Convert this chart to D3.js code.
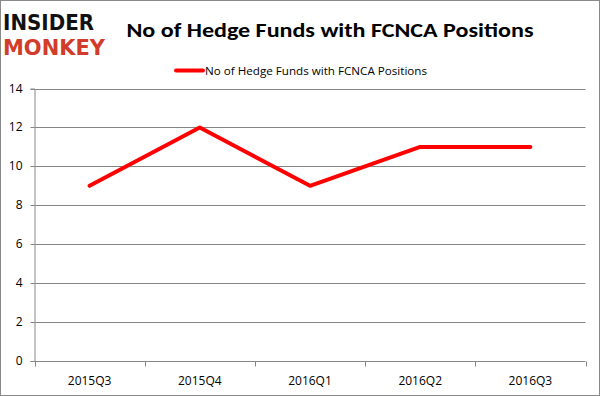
<!DOCTYPE html>
<html>
<head>
<meta charset="utf-8">
<script src="https://cdn.jsdelivr.net/npm/d3@7/dist/d3.min.js"></script>
<style>
  body { margin: 0; background: #fff; }
  svg { display: block; }
</style>
</head>
<body>
<svg id="chart" width="600" height="396"></svg>
<script>
const quarters = ["2015Q3", "2015Q4", "2016Q1", "2016Q2", "2016Q3"];
const hedgeFunds = [9, 12, 9, 11, 11];
const yTicks = [0, 2, 4, 6, 8, 10, 12, 14];
const seriesName = "No of Hedge Funds with FCNCA Positions";

const width = 600;
const height = 396;
const margin = { top: 88.5, right: 14.5, bottom: 35, left: 34.5 };
const FONT = "'Open Sans', 'Liberation Sans', Arial, sans-serif";

const svg = d3.select("#chart");

// outer frame
svg.append("rect")
  .attr("x", 0.5).attr("y", 0.5)
  .attr("width", width - 1).attr("height", height - 1)
  .attr("fill", "#fff")
  .attr("stroke", "#898989");

// logo
svg.append("text")
  .attr("x", 3).attr("y", 30)
  .attr("font-family", "'DejaVu Sans', sans-serif")
  .attr("font-weight", "bold")
  .attr("font-size", 22)
  .attr("textLength", 91)
  .attr("lengthAdjust", "spacingAndGlyphs")
  .attr("fill", "#111")
  .text("INSIDER");
svg.append("text")
  .attr("x", 3).attr("y", 55)
  .attr("font-family", "'DejaVu Sans', sans-serif")
  .attr("font-weight", "bold")
  .attr("font-size", 22)
  .attr("textLength", 102)
  .attr("lengthAdjust", "spacingAndGlyphs")
  .attr("fill", "#d23c2a")
  .text("MONKEY");

// title
svg.append("text")
  .attr("x", 330).attr("y", 37)
  .attr("text-anchor", "middle")
  .attr("font-family", "Calibri, Carlito, Lato, sans-serif")
  .attr("font-weight", "bold")
  .attr("font-size", 20)
  .attr("textLength", 407)
  .attr("lengthAdjust", "spacingAndGlyphs")
  .attr("fill", "#000")
  .text(seriesName);

// legend
svg.append("line")
  .attr("x1", 176).attr("x2", 203)
  .attr("y1", 70.5).attr("y2", 70.5)
  .attr("stroke", "#ff0000")
  .attr("stroke-width", 4)
  .attr("stroke-linecap", "round");
svg.append("text")
  .attr("x", 205).attr("y", 74.5)
  .attr("font-family", FONT)
  .attr("font-size", 11)
  .attr("textLength", 222)
  .attr("lengthAdjust", "spacingAndGlyphs")
  .attr("fill", "#000")
  .text(seriesName);

const x = d3.scaleBand()
  .domain(quarters)
  .range([margin.left, width - margin.right]);

const y = d3.scaleLinear()
  .domain([0, 14])
  .range([height - margin.bottom, margin.top]);

// gridlines
svg.append("g")
  .selectAll("line")
  .data(yTicks.filter((d) => d > 0))
  .enter()
  .append("line")
  .attr("x1", margin.left)
  .attr("x2", width - margin.right)
  .attr("y1", (d) => Math.round(y(d)) + 0.5)
  .attr("y2", (d) => Math.round(y(d)) + 0.5)
  .attr("stroke", "#868686");

// y axis
const yAxis = svg.append("g")
  .attr("transform", `translate(${margin.left},0)`)
  .call(d3.axisLeft(y).tickValues(yTicks).tickSize(4).tickPadding(8)
    .tickFormat(d3.format("d")));
yAxis.select(".domain").attr("stroke", "#868686");
yAxis.selectAll(".tick line").attr("stroke", "#868686");
yAxis.selectAll(".tick").attr("transform", (d) => `translate(0,${Math.round(y(d)) + 0.5})`);
yAxis.selectAll("text")
  .attr("font-family", FONT)
  .attr("font-size", 12)
  .attr("fill", "#000");

// x axis, ticks between categories
const xAxisY = Math.round(y(0)) + 0.5;
const xAxis = svg.append("g").attr("transform", `translate(0,${xAxisY})`);
xAxis.append("line")
  .attr("x1", margin.left).attr("x2", width - margin.right)
  .attr("stroke", "#868686");
const bounds = quarters.map((q) => x(q)).concat([x.range()[1]]);
xAxis.selectAll("line.tk")
  .data(bounds)
  .enter()
  .append("line")
  .attr("class", "tk")
  .attr("x1", (d) => Math.round(d) + 0.5)
  .attr("x2", (d) => Math.round(d) + 0.5)
  .attr("y1", 0).attr("y2", 5)
  .attr("stroke", "#868686");
xAxis.selectAll("text")
  .data(quarters)
  .enter()
  .append("text")
  .attr("x", (d) => x(d) + x.bandwidth() / 2)
  .attr("y", 23)
  .attr("text-anchor", "middle")
  .attr("font-family", FONT)
  .attr("font-size", 12)
  .attr("fill", "#000")
  .text((d) => d);

// series line
const line = d3.line()
  .x((d, i) => x(quarters[i]) + x.bandwidth() / 2)
  .y((d) => y(d));

svg.append("path")
  .datum(hedgeFunds)
  .attr("d", line)
  .attr("fill", "none")
  .attr("stroke", "#ff0000")
  .attr("stroke-width", 4)
  .attr("stroke-linecap", "round")
  .attr("stroke-linejoin", "round");
</script>
</body>
</html>
